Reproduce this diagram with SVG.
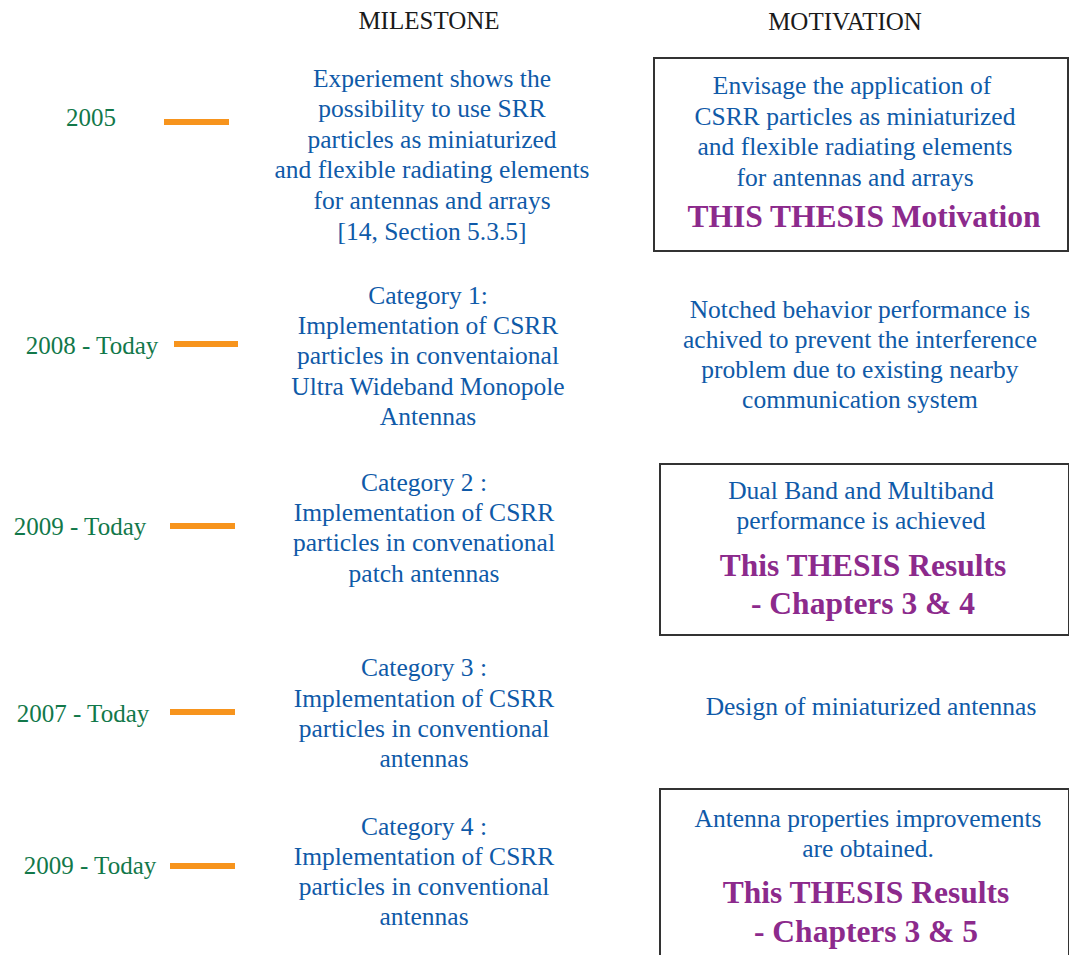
<svg xmlns="http://www.w3.org/2000/svg" width="1069" height="955" viewBox="0 0 1069 955">
  <style>
    text { font-family: "Liberation Serif", "Times New Roman", serif; text-anchor: middle; }
    .head { font-size: 25px; fill: #1a1a1a; }
    .year { font-size: 25px; fill: #12784a; }
    .body { font-size: 25.5px; fill: #0f5aa8; }
    .res { font-size: 31.5px; font-weight: bold; fill: #8c2a8c; }
    .dash { stroke: #f7941d; stroke-width: 6; }
    .box { fill: none; stroke: #333333; stroke-width: 2; }
  </style>

  <g id="headers">
    <text class="head" x="429" y="29">MILESTONE</text>
    <text class="head" x="845" y="30">MOTIVATION</text>
  </g>

  <!-- timeline ticks -->
  <g id="connectors">
    <line class="dash" x1="164" y1="122" x2="229" y2="122"/>
    <line class="dash" x1="174" y1="344" x2="238" y2="344"/>
    <line class="dash" x1="170" y1="526" x2="235" y2="526"/>
    <line class="dash" x1="170" y1="712" x2="235" y2="712"/>
    <line class="dash" x1="170" y1="866" x2="235" y2="866"/>
  </g>

  <!-- row 1 -->
  <g id="year-2005"><text class="year" x="91" y="126">2005</text></g>
  <g id="milestone-2005">
    <text class="body" x="432" y="87">Experiement shows the</text>
    <text class="body" x="432" y="117">possibility to use SRR</text>
    <text class="body" x="432" y="148">particles as miniaturized</text>
    <text class="body" x="432" y="178">and flexible radiating elements</text>
    <text class="body" x="432" y="209">for antennas and arrays</text>
    <text class="body" x="432" y="240">[14, Section 5.3.5]</text>
  </g>
  <g id="motivation-2005">
    <rect class="box" x="654" y="58" width="414" height="193"/>
    <text class="body" x="852" y="94">Envisage the application of</text>
    <text class="body" x="855" y="125">CSRR particles as miniaturized</text>
    <text class="body" x="855" y="155">and flexible radiating elements</text>
    <text class="body" x="855" y="186">for antennas and arrays</text>
    <text class="res" x="864" y="227">THIS THESIS Motivation</text>
  </g>

  <!-- row 2 -->
  <g id="year-2008"><text class="year" x="92" y="354">2008 - Today</text></g>
  <g id="milestone-cat1">
    <text class="body" x="428" y="304">Category 1:</text>
    <text class="body" x="428" y="334">Implementation of CSRR</text>
    <text class="body" x="428" y="364">particles in conventaional</text>
    <text class="body" x="428" y="395">Ultra Wideband Monopole</text>
    <text class="body" x="428" y="425">Antennas</text>
  </g>
  <g id="motivation-cat1">
    <text class="body" x="860" y="318">Notched behavior performance is</text>
    <text class="body" x="860" y="348">achived to prevent the interference</text>
    <text class="body" x="860" y="378">problem due to existing nearby</text>
    <text class="body" x="860" y="408">communication system</text>
  </g>

  <!-- row 3 -->
  <g id="year-2009a"><text class="year" x="80" y="535">2009 - Today</text></g>
  <g id="milestone-cat2">
    <text class="body" x="424" y="491">Category 2 :</text>
    <text class="body" x="424" y="521">Implementation of CSRR</text>
    <text class="body" x="424" y="551">particles in convenational</text>
    <text class="body" x="424" y="582">patch antennas</text>
  </g>
  <g id="motivation-cat2">
    <rect class="box" x="660" y="464" width="409" height="171"/>
    <text class="body" x="861" y="499">Dual Band and Multiband</text>
    <text class="body" x="861" y="529">performance is achieved</text>
    <text class="res" x="863" y="576">This THESIS Results</text>
    <text class="res" x="863" y="614">- Chapters 3 &amp; 4</text>
  </g>

  <!-- row 4 -->
  <g id="year-2007"><text class="year" x="83" y="722">2007 - Today</text></g>
  <g id="milestone-cat3">
    <text class="body" x="424" y="676">Category 3 :</text>
    <text class="body" x="424" y="707">Implementation of CSRR</text>
    <text class="body" x="424" y="737">particles in conventional</text>
    <text class="body" x="424" y="767">antennas</text>
  </g>
  <g id="motivation-cat3">
    <text class="body" x="871" y="715">Design of miniaturized antennas</text>
  </g>

  <!-- row 5 -->
  <g id="year-2009b"><text class="year" x="90" y="874">2009 - Today</text></g>
  <g id="milestone-cat4">
    <text class="body" x="424" y="835">Category 4 :</text>
    <text class="body" x="424" y="865">Implementation of CSRR</text>
    <text class="body" x="424" y="895">particles in conventional</text>
    <text class="body" x="424" y="925">antennas</text>
  </g>
  <g id="motivation-cat4">
    <rect class="box" x="660" y="789" width="409" height="180"/>
    <text class="body" x="868" y="827">Antenna properties improvements</text>
    <text class="body" x="868" y="857">are obtained.</text>
    <text class="res" x="866" y="903">This THESIS Results</text>
    <text class="res" x="866" y="942">- Chapters 3 &amp; 5</text>
  </g>
</svg>
